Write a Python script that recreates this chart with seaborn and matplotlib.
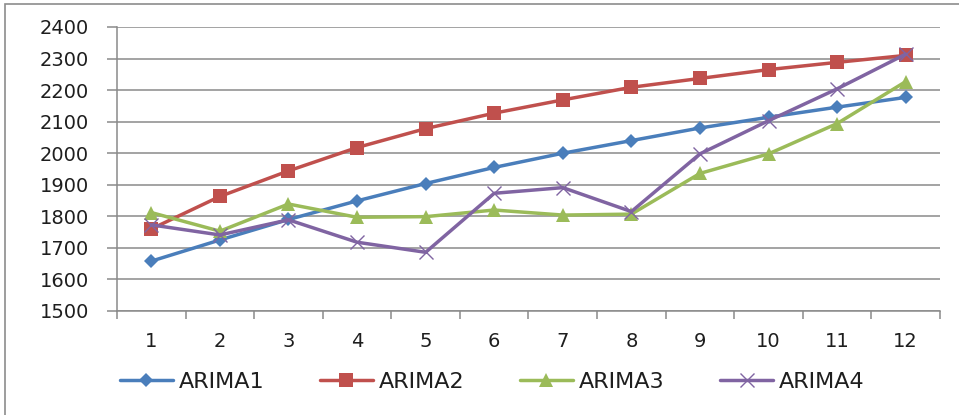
import matplotlib
matplotlib.use("Agg")
import matplotlib.pyplot as plt
from matplotlib.patches import Rectangle
from matplotlib.ticker import FixedLocator
import numpy as np
import pandas as pd
import seaborn as sns

# Forecast periods and model outputs
periods = list(range(1, 13))
arima1 = [1658, 1725, 1790, 1849, 1904, 1955, 2000, 2040, 2080, 2114, 2146, 2177]
arima2 = [1760, 1863, 1944, 2018, 2078, 2127, 2169, 2209, 2237, 2265, 2288, 2310]
arima3 = [1812, 1753, 1839, 1797, 1799, 1820, 1804, 1807, 1936, 1998, 2094, 2227]
arima4 = [1773, 1741, 1789, 1718, 1686, 1873, 1891, 1815, 1998, 2103, 2204, 2314]
model_names = ["ARIMA1", "ARIMA2", "ARIMA3", "ARIMA4"]
y_ticks = list(range(1500, 2401, 100))

series = dict(zip(model_names, [arima1, arima2, arima3, arima4]))
df = pd.DataFrame(
    [(name, p, v) for name, vals in series.items() for p, v in zip(periods, vals)],
    columns=["model", "period", "value"],
)

sns.set_style("white")
plt.rcParams["font.family"] = ["DejaVu Sans"]

colors = {"ARIMA1": "#4A7EBB", "ARIMA2": "#C0504D", "ARIMA3": "#9BBB59", "ARIMA4": "#8064A2"}
marker_style = {
    "ARIMA1": dict(marker="D", markersize=7, markeredgewidth=0),
    "ARIMA2": dict(marker="s", markersize=9.5, markeredgewidth=0),
    "ARIMA3": dict(marker="^", markersize=10, markeredgewidth=0),
    "ARIMA4": dict(marker="x", markersize=10, markeredgewidth=1.0),
}

fig = plt.figure(figsize=(9.59, 4.15), dpi=100)
ax = fig.add_axes([117 / 959, 1 - 311 / 415, 823 / 959, 284 / 415])

for name in model_names:
    sub = df[df["model"] == name]
    st = marker_style[name]
    sns.lineplot(
        data=sub, x="period", y="value", ax=ax, color=colors[name],
        linewidth=2.5, label=name, marker=st["marker"],
        markersize=st["markersize"], markeredgewidth=st["markeredgewidth"],
        markeredgecolor=colors[name] if name == "ARIMA4" else "none",
        legend=False,
    )

ax.set_xlim(0.5, 12.5)
ax.set_ylim(1500, 2400)
ax.set_xlabel("")
ax.set_ylabel("")

grid_c = "#8a8a8a"
ax.set_yticks(y_ticks)
ax.yaxis.grid(True, color=grid_c, linewidth=1.1)
ax.xaxis.grid(False)
ax.set_axisbelow(True)

ax.set_xticks(periods)
ax.set_xticklabels([str(p) for p in periods])
ax.xaxis.set_minor_locator(FixedLocator(np.arange(0.5, 12.6, 1.0)))
ax.tick_params(axis="x", which="major", length=0, pad=15, labelsize=14, labelcolor="#1e1e1e")
ax.tick_params(axis="x", which="minor", length=6, width=1.1, color=grid_c, direction="out")
ax.tick_params(axis="y", which="major", length=7, width=1.1, color=grid_c, direction="out",
               pad=13, labelsize=14, labelcolor="#1e1e1e")
ax.tick_params(bottom=True, left=True, which="both")

for side in ("top", "right"):
    ax.spines[side].set_visible(False)
for side in ("left", "bottom"):
    ax.spines[side].set_color(grid_c)
    ax.spines[side].set_linewidth(1.1)

handles, labels = ax.get_legend_handles_labels()
fig.legend(
    handles, labels, loc="center", bbox_to_anchor=(492 / 959, 1 - 382 / 415),
    ncol=4, frameon=False, fontsize=16, handlelength=2.4, handletextpad=0.25,
    columnspacing=2.5, labelcolor="#1e1e1e",
)

# outer chart border
fig.patches.append(Rectangle((5 / 959, -0.1), 1.2, 1 - 4 / 415 + 0.1,
                             transform=fig.transFigure, fill=False,
                             edgecolor="#8c8c8c", linewidth=1.2))

fig.savefig("out.png", dpi=100)
